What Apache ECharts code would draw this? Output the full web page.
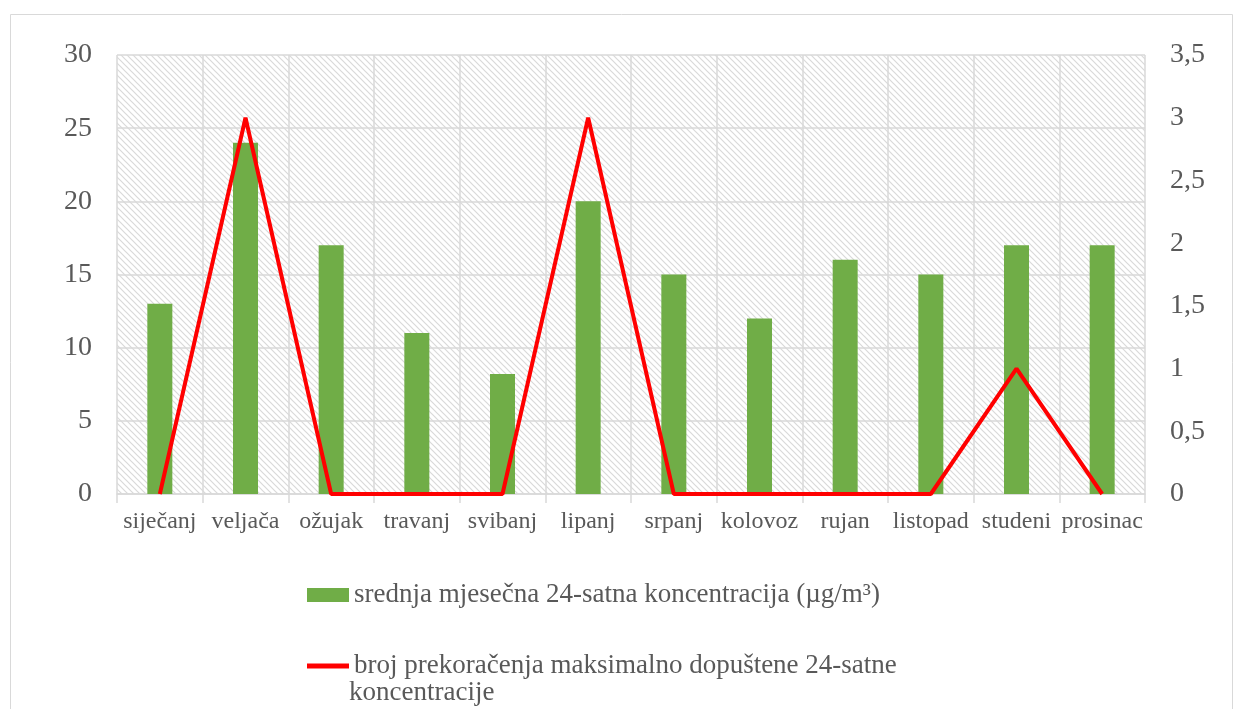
<!DOCTYPE html>
<html>
<head>
<meta charset="utf-8">
<script src="https://cdn.jsdelivr.net/npm/echarts@6/dist/echarts.min.js"></script>
<style>
  html, body { margin: 0; padding: 0; background: #fff; }
  #chart { width: 1245px; height: 709px; }
</style>
</head>
<body>
<div id="chart"></div>
<script>
// mjeseci i vrijednosti
const months = ['siječanj', 'veljača', 'ožujak', 'travanj', 'svibanj', 'lipanj',
    'srpanj', 'kolovoz', 'rujan', 'listopad', 'studeni', 'prosinac'];
const meanConc = [13, 24, 17, 11, 8.2, 20, 15, 12, 16, 15, 17, 17];
const exceedances = [0, 3, 0, 0, 0, 3, 0, 0, 0, 0, 1, 0];
const barName = 'srednja mjesečna 24-satna koncentracija (µg/m³)';
const lineName = 'broj prekoračenja maksimalno dopuštene 24-satne koncentracije';

function hatch() {
    var c = document.createElement('canvas');
    c.width = 6;
    c.height = 6;
    var ctx = c.getContext('2d');
    ctx.fillStyle = '#ffffff';
    ctx.fillRect(0, 0, 6, 6);
    ctx.strokeStyle = '#d9d9d9';
    ctx.lineWidth = 1.2;
    ctx.beginPath();
    ctx.moveTo(-1, -1); ctx.lineTo(7, 7);
    ctx.moveTo(-1, 5); ctx.lineTo(1, 7);
    ctx.moveTo(5, -1); ctx.lineTo(7, 1);
    ctx.stroke();
    return c;
}

function drawChart() {
    var dom = document.getElementById('chart');
    var myChart = echarts.init(dom, null, { renderer: 'canvas' });
    var font = 'Liberation Serif';
    var legendText = { fontFamily: font, fontSize: 27, lineHeight: 30, color: '#595959' };
    var option = {
        animation: false,
        textStyle: { fontFamily: font },
        grid: {
            left: 117, right: 100, top: 55, bottom: 215,
            show: true,
            borderWidth: 0,
            backgroundColor: { image: hatch(), repeat: 'repeat' }
        },
        legend: [
            {
                data: [barName],
                left: 302, top: 575,
                itemWidth: 42, itemHeight: 14, itemGap: 5,
                icon: 'rect',
                textStyle: legendText
            },
            {
                data: [lineName],
                left: 302, top: 646,
                itemWidth: 42, itemHeight: 5,
                icon: 'rect',
                itemStyle: { color: '#ff0000' },
                formatter: function () { return 'broj prekoračenja maksimalno dopuštene 24-satne'; },
                textStyle: legendText
            }
        ],
        graphic: [
            {
                type: 'rect',
                shape: { x: 10.5, y: 14.5, width: 1222, height: 720 },
                style: { fill: 'none', stroke: '#d9d9d9', lineWidth: 1 },
                z: -1
            },
            {
                type: 'text',
                left: 349, top: 678,
                style: { text: 'koncentracije', fontFamily: font, fontSize: 27, lineHeight: 30, fill: '#595959' }
            }
        ],
        xAxis: {
            type: 'category',
            data: months,
            axisLine: { lineStyle: { color: '#d9d9d9', width: 1.5 } },
            axisTick: { show: true, length: 9, lineStyle: { color: '#d9d9d9', width: 1.5 } },
            splitLine: { show: true, lineStyle: { color: '#d9d9d9', width: 1.5 } },
            axisLabel: { fontFamily: font, fontSize: 24, color: '#595959', margin: 16, interval: 0 }
        },
        yAxis: [
            {
                type: 'value',
                min: 0, max: 30, interval: 5,
                axisLine: { show: false },
                axisTick: { show: false },
                splitLine: { lineStyle: { color: '#d9d9d9', width: 1.5 } },
                axisLabel: { fontFamily: font, fontSize: 28, color: '#595959', margin: 25 }
            },
            {
                type: 'value',
                min: 0, max: 3.5, interval: 0.5,
                axisLine: { show: false },
                axisTick: { show: false },
                splitLine: { show: false },
                axisLabel: {
                    fontFamily: font, fontSize: 28, color: '#595959', margin: 25,
                    formatter: function (v) { return String(v).replace('.', ','); }
                }
            }
        ],
        series: [
            {
                name: barName,
                type: 'bar',
                data: meanConc,
                barWidth: 25,
                itemStyle: { color: '#70ad47' }
            },
            {
                name: lineName,
                type: 'line',
                yAxisIndex: 1,
                data: exceedances,
                symbol: 'none',
                lineStyle: { color: '#ff0000', width: 4 },
                itemStyle: { color: '#ff0000' }
            }
        ]
    };
    myChart.setOption(option);
    window.addEventListener('resize', myChart.resize);
}

drawChart();
</script>
</body>
</html>
